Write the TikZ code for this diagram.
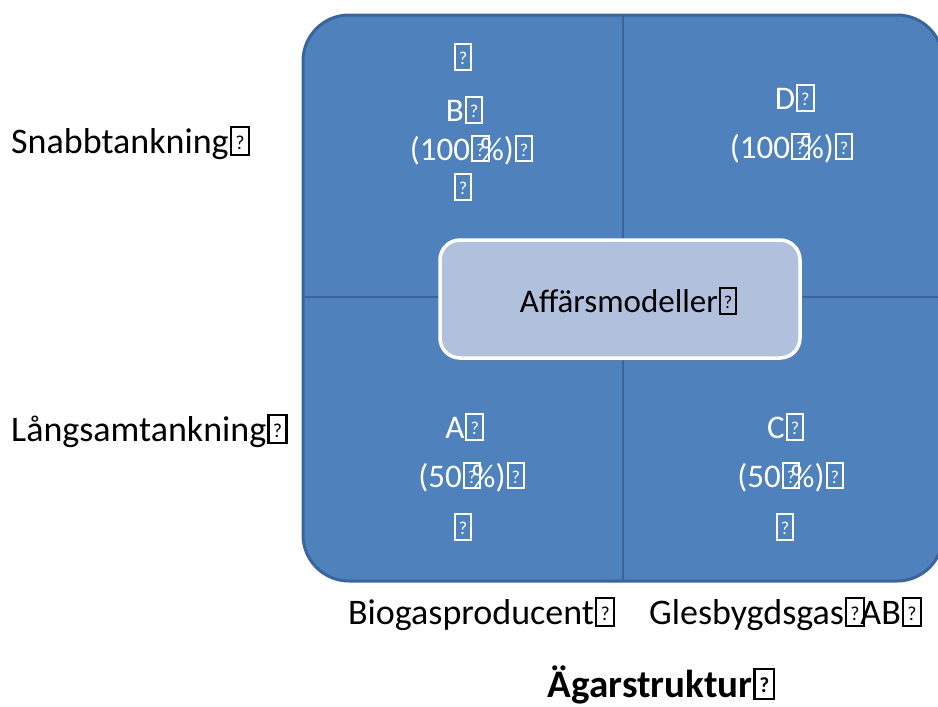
\documentclass[tikz,border=0pt]{standalone}
\usepackage{fontspec}
\usepackage{graphicx}
\setmainfont{Carlito}
\usetikzlibrary{shadows}
\definecolor{quadfill}{HTML}{4F81BD}
\definecolor{quadedge}{HTML}{3B659A}
\definecolor{centerfill}{HTML}{B1C1DD}
% small framed question-mark glyph box
\newcommand\gq{\begingroup\setlength\fboxsep{0pt}\setlength\fboxrule{0.06em}%
  \kern0.03em\fbox{\makebox[0.44em]{\rule{0pt}{0.7em}\raisebox{0.12em}{\scalebox{0.55}{?}}}}\kern0.02em\endgroup}
\tikzset{
  axislabel/.style={font=\fontsize{36}{40}\selectfont, text=black, inner sep=0pt},
  quadtext/.style={font=\fontsize{33}{38}\selectfont, text=white, inner sep=0pt},
  divider/.style={draw=quadedge, line width=2.5pt},
}
\begin{document}
\begin{tikzpicture}[x=1pt,y=-1pt]
\useasboundingbox (0,0) rectangle (938,707);
\clip (0,0) rectangle (938,707);
% outer matrix
\draw[fill=quadfill, draw=quadedge, line width=3pt, rounded corners=46pt]
  (303,15) rectangle (943,581);
\draw[divider] (623,16) -- (623,580);
\draw[divider] (304,297) -- (938,297);
% central box
\node[draw=white, line width=3.5pt, fill=centerfill, rounded corners=20pt,
  minimum width=360pt, minimum height=118pt,
  drop shadow={shadow xshift=2pt, shadow yshift=-3pt, opacity=0.35},
  inner sep=0pt] (center) at (620,299) {};
\node[font=\fontsize{33}{38}\selectfont, inner sep=0pt] (centertext) at (629,301) {Affärsmodeller\gq};
% quadrant B
\node[quadtext] (b0) at (463,57) {\gq};
\node[quadtext] (b1) at (465,110) {B\gq};
\node[quadtext] (b2) at (472,150) {(100\gq\kern-0.3em\%)\gq};
\node[quadtext] (b3) at (463,187) {\gq};
% quadrant D
\node[quadtext] (d1) at (795,98) {D\gq};
\node[quadtext] (d2) at (792,148) {(100\gq\kern-0.3em\%)\gq};
% quadrant A
\node[quadtext] (a1) at (465,427) {A\gq};
\node[quadtext] (a2) at (472,477) {(50\gq\kern-0.3em\%)\gq};
\node[quadtext] (a3) at (463,527) {\gq};
% quadrant C
\node[quadtext] (c1) at (786,427) {C\gq};
\node[quadtext] (c2) at (791,477) {(50\gq\kern-0.3em\%)\gq};
\node[quadtext] (c3) at (785,527) {\gq};
% axis labels
\node[axislabel, anchor=west] (snabb) at (11,143) {Snabbtankning\gq};
\node[axislabel, anchor=west] (langsam) at (11,431) {Långsamtankning\gq};
\node[axislabel] (bio) at (482,614) {Biogasproducent\gq};
\node[axislabel] (gles) at (786,614) {Glesbygdsgas\gq\kern-0.15em AB\gq};
\node[axislabel, font=\bfseries\fontsize{39}{44}\selectfont] (agar) at (662,685) {Ägarstruktur\gq};
\end{tikzpicture}
\end{document}
